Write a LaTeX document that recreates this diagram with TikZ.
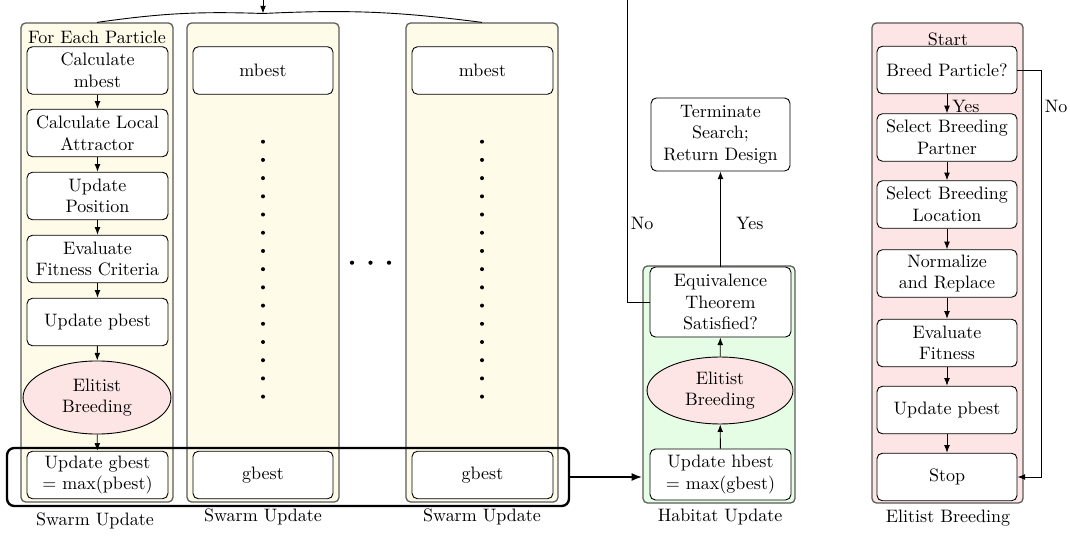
\documentclass[tikz,border=0pt]{standalone}
\usetikzlibrary{arrows.meta,shapes.geometric}
\definecolor{swarmfill}{RGB}{254,251,232}
\definecolor{pinkfill}{RGB}{253,229,229}
\definecolor{greenfill}{RGB}{229,253,229}
\tikzset{
 panel/.style={draw=black!65, line width=0.7pt, rounded corners=2.5pt, minimum width=84.4pt, inner sep=0pt},
 box/.style={draw, fill=white, line width=0.5pt, rounded corners=3pt, minimum width=78.3pt, minimum height=26.4pt, align=center, inner sep=1pt, font=\fontsize{10}{12}\selectfont},
 ell/.style={ellipse, draw, line width=0.5pt, fill=pinkfill, minimum width=82.2pt, minimum height=40.6pt, align=center, inner sep=0pt, font=\fontsize{10}{12}\selectfont},
 arr/.style={-{Latex[length=4.2pt,width=3.2pt]}, line width=0.5pt},
 lbl/.style={inner sep=0pt, font=\fontsize{10}{12}\selectfont}
}
\begin{document}
\begin{tikzpicture}[x=0.5556pt,y=-0.5556pt]
\useasboundingbox (0,0) rectangle (1070,537);
% panels
\node[panel, fill=swarmfill, minimum height=266.1pt] (p1) at (97,262.5) {};
\node[panel, fill=swarmfill, minimum height=266.1pt] (p2) at (263,262.5) {};
\node[panel, fill=swarmfill, minimum height=266.1pt] (p3) at (482,262.5) {};
\node[panel, fill=greenfill, minimum height=131.7pt] (hp) at (719,384.5) {};
\node[panel, fill=pinkfill, minimum height=266.7pt, minimum width=83.9pt] (ep) at (947.5,263) {};

% swarm panel 1
\node[lbl] (fep) at (97,37.5) {For Each Particle};
\node[box] (a1) at (97.5,70.5) {Calculate\\mbest};
\node[box] (a2) at (97.5,133) {Calculate Local\\Attractor};
\node[box] (a3) at (97.5,196) {Update\\Position};
\node[box] (a4) at (97.5,259) {Evaluate\\Fitness Criteria};
\node[box] (a5) at (97.5,322) {Update pbest};
\node[ell] (a6) at (97,397.5) {Elitist\\Breeding};
\node[box] (a7) at (97.5,475) {Update gbest\\= max(pbest)};
\draw[arr] (a1) -- (a2);
\draw[arr] (a2) -- (a3);
\draw[arr] (a3) -- (a4);
\draw[arr] (a4) -- (a5);
\draw[arr] (a5) -- (a6);
\draw[arr] (a6) -- (a7);

% swarm panels 2 and 3
\node[box, minimum width=77.8pt] (m2) at (263,70.5) {mbest};
\node[box, minimum width=77.8pt] (g2) at (263,475) {gbest};
\node[box] (m3) at (482.5,70.5) {mbest};
\node[box] (g3) at (482.5,475) {gbest};
\foreach \i in {0,...,14} {
  \fill (263,141.7+\i*18.21) circle (2.0);
  \fill (482,141.7+\i*18.21) circle (2.0);
}
\foreach \xx in {352,370.5,389} { \fill (\xx,262.7) circle (2.1); }

\node[lbl] (sl1) at (95,520.5) {Swarm Update};
\node[lbl] (sl2) at (263,517) {Swarm Update};
\node[lbl] (sl3) at (482,517) {Swarm Update};

% top connector
\coordinate (src) at (263,0);
\coordinate (jn) at (263,13.5);
\draw[arr] (src) -- (jn);
\draw[line width=0.5pt] (p1.north) to[bend left=5] (jn) to[bend left=5] (p3.north);

% thick gbest box
\node[draw, line width=1.3pt, rounded corners=4pt, minimum width=312.2pt, minimum height=32.2pt, inner sep=0pt] (gb) at (288,477) {};
\draw[line width=1.2pt, -{Latex[length=6pt,width=4.5pt]}] (gb.east) -- (gb.east -| hp.west);

% habitat
\node[box, minimum height=38.9pt] (eq) at (720.5,302) {Equivalence\\Theorem\\Satisfied?};
\node[ell, minimum width=81.1pt, minimum height=37.2pt] (he) at (720,390.5) {Elitist\\Breeding};
\node[box, minimum height=28.3pt] (hb) at (720.5,474.5) {Update hbest\\= max(gbest)};
\node[box, minimum width=77.2pt, minimum height=40.6pt] (term) at (720.5,134.5) {Terminate\\Search;\\Return Design};
\draw[arr] (hb) -- (he);
\draw[arr] (he) -- (eq);
\draw[arr] (eq) -- (term);
\node[lbl] (yes1) at (750,223) {Yes};
\node[lbl] (no1) at (642,223) {No};
\coordinate (top2) at (627,0);
\draw[line width=0.5pt] (eq.west) -| (top2);
\node[lbl] (hl) at (720,517) {Habitat Update};

% elitist breeding
\node[lbl] (st) at (948,39) {Start};
\node[box, minimum width=77.8pt] (e1) at (947,70) {Breed Particle?};
\node[box, minimum width=77.8pt] (e2) at (947,137.5) {Select Breeding\\Partner};
\node[box, minimum width=77.8pt] (e3) at (947,204.5) {Select Breeding\\Location};
\node[box, minimum width=77.8pt] (e4) at (947,273.5) {Normalize\\and Replace};
\node[box, minimum width=77.8pt] (e5) at (947,343) {Evaluate\\Fitness};
\node[box, minimum width=77.8pt] (e6) at (947,410) {Update pbest};
\node[box, minimum width=77.8pt] (e7) at (947,477) {Stop};
\draw[arr] (e1) -- (e2);
\draw[arr] (e2) -- (e3);
\draw[arr] (e3) -- (e4);
\draw[arr] (e4) -- (e5);
\draw[arr] (e5) -- (e6);
\draw[arr] (e6) -- (e7);
\node[lbl, anchor=west] (yes2) at (952,106) {Yes};
\coordinate (nocorner) at (1041,70);
\draw[arr] (e1.east) -- (nocorner) |- (e7.east);
\node[lbl] (no2) at (1056,106) {No};
\node[lbl] (el) at (948,518) {Elitist Breeding};
\end{tikzpicture}
\end{document}
